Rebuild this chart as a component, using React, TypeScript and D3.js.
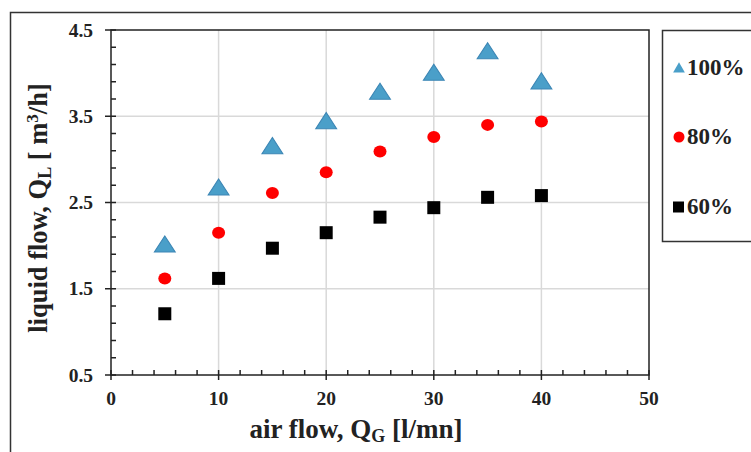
import React, { useEffect, useRef } from "react";
import * as d3 from "d3";

const airFlow = [5, 10, 15, 20, 25, 30, 35, 40];
const series100 = [2.0, 2.66, 3.14, 3.43, 3.77, 3.99, 4.24, 3.89];
const series80 = [1.62, 2.15, 2.61, 2.85, 3.09, 3.26, 3.40, 3.44];
const series60 = [1.21, 1.62, 1.97, 2.15, 2.33, 2.44, 2.56, 2.58];
const seriesNames = ["100%", "80%", "60%"];
const xTicks = [0, 10, 20, 30, 40, 50];
const yTicks = [0.5, 1.5, 2.5, 3.5, 4.5];

export default function App() {
  const ref = useRef<SVGSVGElement>(null);

  useEffect(() => {
    const svg = d3.select(ref.current);
    svg.selectAll("*").remove();
    const font = "'Liberation Serif', 'Times New Roman', serif";

    const left = 111, right = 649, top = 30, bottom = 375;
    const x = d3.scaleLinear().domain([0, 50]).range([left, right]);
    const y = d3.scaleLinear().domain([0.5, 4.5]).range([bottom, top]);

    svg.append("rect").attr("x", 0).attr("y", 0).attr("width", 751).attr("height", 452).attr("fill", "#fff");
    // outer border
    svg.append("rect").attr("x", 10.5).attr("y", 12.5).attr("width", 760).attr("height", 460)
      .attr("fill", "none").attr("stroke", "#333").attr("stroke-width", 1.5);

    // gridlines
    const g = svg.append("g");
    g.selectAll(".vg").data(xTicks.slice(1, -1)).join("line")
      .attr("x1", d => x(d)).attr("x2", d => x(d)).attr("y1", top).attr("y2", bottom)
      .attr("stroke", "#d9d9d9").attr("stroke-width", 1.5);
    g.selectAll(".hg").data(yTicks.slice(1, -1)).join("line")
      .attr("x1", left).attr("x2", right).attr("y1", d => y(d)).attr("y2", d => y(d))
      .attr("stroke", "#d9d9d9").attr("stroke-width", 1.5);

    // plot box
    svg.append("rect").attr("x", left).attr("y", top).attr("width", right - left).attr("height", bottom - top)
      .attr("fill", "none").attr("stroke", "#222").attr("stroke-width", 1.5);

    // minor ticks
    const xMinor = d3.range(0, 50.01, 2).filter(v => v % 10 !== 0);
    svg.selectAll(".xm").data(xMinor).join("line")
      .attr("x1", d => x(d)).attr("x2", d => x(d)).attr("y1", bottom).attr("y2", bottom - 5)
      .attr("stroke", "#222").attr("stroke-width", 1.5);
    const yMinor = d3.range(0.5, 4.51, 0.2).filter(v => Math.abs(((v - 0.5) % 1)) > 0.05 && Math.abs(((v - 0.5) % 1) - 1) > 0.05);
    svg.selectAll(".ym").data(yMinor).join("line")
      .attr("x1", left).attr("x2", left + 5).attr("y1", d => y(d)).attr("y2", d => y(d))
      .attr("stroke", "#222").attr("stroke-width", 1.5);
    // major ticks
    svg.selectAll(".xM").data(xTicks).join("line")
      .attr("x1", d => x(d)).attr("x2", d => x(d)).attr("y1", bottom - 5).attr("y2", bottom + 5)
      .attr("stroke", "#222").attr("stroke-width", 1.5);
    svg.selectAll(".yM").data(yTicks).join("line")
      .attr("x1", left - 6).attr("x2", left + 5).attr("y1", d => y(d)).attr("y2", d => y(d))
      .attr("stroke", "#222").attr("stroke-width", 1.5);

    // tick labels
    svg.selectAll(".xl").data(xTicks).join("text")
      .attr("x", d => x(d)).attr("y", bottom + 30).attr("text-anchor", "middle")
      .attr("font-family", font).attr("font-weight", "bold").attr("font-size", 19.5).attr("fill", "#222")
      .text(d => String(d));
    svg.selectAll(".yl").data(yTicks).join("text")
      .attr("x", left - 18).attr("y", d => y(d) + 6.5).attr("text-anchor", "end")
      .attr("font-family", font).attr("font-weight", "bold").attr("font-size", 19.5).attr("fill", "#222")
      .text(d => d.toFixed(1));

    // axis titles
    const xt = svg.append("text").attr("x", 356).attr("y", 438).attr("text-anchor", "middle")
      .attr("font-family", font).attr("font-weight", "bold").attr("font-size", 27).attr("fill", "#222");
    xt.append("tspan").text("air flow, Q");
    xt.append("tspan").attr("font-size", 18).attr("dy", 4).text("G");
    xt.append("tspan").attr("dy", -4).text(" [l/mn]");

    const yt = svg.append("text").attr("transform", "translate(47,208) rotate(-90)").attr("text-anchor", "middle")
      .attr("font-family", font).attr("font-weight", "bold").attr("font-size", 26.5).attr("fill", "#222");
    yt.append("tspan").text("liquid flow, Q");
    yt.append("tspan").attr("font-size", 18).attr("dy", 4).text("L");
    yt.append("tspan").attr("dy", -4).text(" [ m");
    yt.append("tspan").attr("font-size", 17).attr("dy", -9).text("3");
    yt.append("tspan").attr("dy", 9).text("/h]");

    // markers
    const tri = d3.symbol().type(d3.symbolTriangle).size(150);
    const pts100 = airFlow.map((v, i) => [v, series100[i]]);
    const pts80 = airFlow.map((v, i) => [v, series80[i]]);
    const pts60 = airFlow.map((v, i) => [v, series60[i]]);

    svg.selectAll(".s60").data(pts60).join("rect")
      .attr("x", d => x(d[0]) - 6.5).attr("y", d => y(d[1]) - 6.5).attr("width", 13).attr("height", 13)
      .attr("fill", "#000");
    svg.selectAll(".s80").data(pts80).join("ellipse")
      .attr("cx", d => x(d[0])).attr("cy", d => y(d[1])).attr("rx", 6.5).attr("ry", 6)
      .attr("fill", "#ff0000");
    svg.selectAll(".s100").data(pts100).join("path")
      .attr("d", tri as any).attr("transform", d => `translate(${x(d[0])},${y(d[1]) + 1}) scale(1.12,1)`)
      .attr("fill", "#4a9fc9").attr("stroke", "#3c86b5").attr("stroke-width", 1);

    // legend
    svg.append("rect").attr("x", 662.5).attr("y", 30.5).attr("width", 120).attr("height", 211)
      .attr("fill", "#fff").attr("stroke", "#333").attr("stroke-width", 1.5);
    const ly = [68, 137, 207];
    const lg = svg.append("g");
    lg.append("path").attr("d", d3.symbol().type(d3.symbolTriangle).size(60)() as string)
      .attr("transform", `translate(679,${ly[0] + 1})`).attr("fill", "#4a9fc9");
    lg.append("circle").attr("cx", 679).attr("cy", ly[1]).attr("r", 5.5).attr("fill", "#ff0000");
    lg.append("rect").attr("x", 673).attr("y", ly[2] - 5.5).attr("width", 11).attr("height", 11).attr("fill", "#000");
    lg.selectAll(".lt").data(seriesNames).join("text")
      .attr("x", 687).attr("y", (d, i) => ly[i] + 7)
      .attr("font-family", font).attr("font-weight", "bold").attr("font-size", 23).attr("fill", "#222")
      .text(d => d);
  }, []);

  return (
    <svg ref={ref} width={751} height={452} style={{ position: "absolute", left: 0, top: 0, display: "block" }} />
  );
}
